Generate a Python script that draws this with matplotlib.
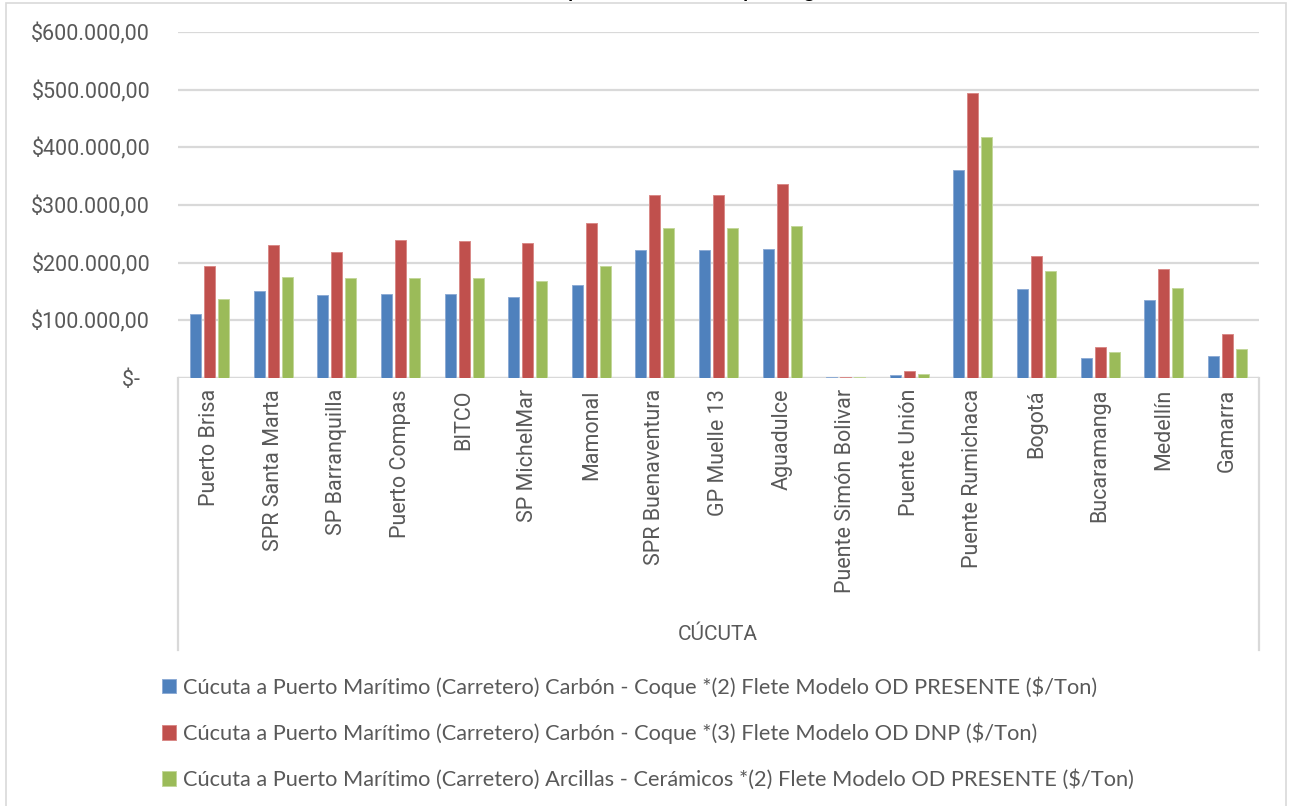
import matplotlib
matplotlib.use("Agg")
import matplotlib.pyplot as plt
from matplotlib.patches import Rectangle
from matplotlib.ticker import FuncFormatter, MultipleLocator
import numpy as np

# Destinations reached from Cúcuta
categories = [
    "Puerto Brisa", "SPR Santa Marta", "SP Barranquilla", "Puerto Compas",
    "BITCO", "SP MichelMar", "Mamonal", "SPR Buenaventura", "GP Muelle 13",
    "Aguadulce", "Puente Simón Bolivar", "Puente Unión", "Puente Rumichaca",
    "Bogotá", "Bucaramanga", "Medellín", "Gamarra",
]
group_label = "CÚCUTA"

# Freight per ton ($/Ton)
coque_presente = [111000, 151000, 144000, 146000, 145000, 140500, 161000, 221500,
                  221500, 223000, 1500, 5200, 360700, 155000, 34700, 135000, 38000]
coque_dnp = [194000, 230600, 218500, 239000, 237500, 233500, 268500, 317000,
             317000, 336000, 2200, 11600, 493600, 211000, 54300, 189000, 75700]
arcillas_presente = [137500, 175000, 173000, 174000, 173000, 169000, 194000, 260700,
                     260700, 263600, 1500, 7500, 417400, 185000, 45000, 156000, 50300]

series_labels = [
    "Cúcuta a Puerto Marítimo (Carretero) Carbón - Coque *(2) Flete Modelo OD PRESENTE ($/Ton)",
    "Cúcuta a Puerto Marítimo (Carretero) Carbón - Coque *(3) Flete Modelo OD DNP ($/Ton)",
    "Cúcuta a Puerto Marítimo (Carretero) Arcillas - Cerámicos *(2) Flete Modelo OD PRESENTE ($/Ton)",
]
series_colors = ["#4F81BD", "#C0504D", "#9BBB59"]
edge_colors = ["#8EACD5", "#D98A88", "#C3D79B"]

title_text = "Fletes de transporte desde Cúcuta por carga"

TEXT = "#595959"
GRID = "#D9D9D9"

W, H = 1290, 806
fig = plt.figure(figsize=(W / 100, H / 100), dpi=100)
fig.patch.set_facecolor("white")

ax_left, ax_right = 178 / W, 1259 / W
ax_top, ax_bottom = 1 - 32 / H, 1 - 378 / H
ax = fig.add_axes([ax_left, ax_bottom, ax_right - ax_left, ax_top - ax_bottom])

x = np.arange(len(categories))
bar_w = 11 / 63.6
step = 14 / 63.6
all_series = [coque_presente, coque_dnp, arcillas_presente]
handles = []
for i, vals in enumerate(all_series):
    b = ax.bar(x + (i - 1) * step, vals, width=bar_w, color=series_colors[i],
               edgecolor=edge_colors[i], linewidth=0.7, label=series_labels[i],
               zorder=3)
    handles.append(b)

ax.set_xlim(-0.5, len(categories) - 0.5)
ax.set_ylim(0, 600000)
ax.yaxis.set_major_locator(MultipleLocator(100000))


def money(v, pos):
    if abs(v) < 1e-6:
        return "$-  "
    s = f"{v:,.2f}"
    s = s.replace(",", "X").replace(".", ",").replace("X", ".")
    return "$" + s


ax.yaxis.set_major_formatter(FuncFormatter(money))
ax.grid(axis="y", color=GRID, linewidth=1.6, zorder=0)
ax.set_axisbelow(True)
for sp in ax.spines.values():
    sp.set_visible(False)
ax.axhline(0, color=GRID, linewidth=1.6, zorder=2)

ax.tick_params(axis="y", length=0, pad=20, labelsize=15.5, labelcolor=TEXT)
ax.tick_params(axis="x", length=0, pad=8, labelsize=15.5, labelcolor=TEXT)
for lbl in ax.get_yticklabels():
    lbl.set_fontfamily("Roboto")
ax.set_xticks(x)
ax.set_xticklabels(categories, rotation=90, fontfamily="Roboto")

# Outer category group box
box_bottom = -(650 - 378) / (378 - 32)
for xs in (0, 1):
    ax.plot([xs, xs], [0, box_bottom], transform=ax.transAxes, color=GRID,
            linewidth=1.6, clip_on=False)
fig.text(718 / W, 1 - 635 / H, group_label, ha="center", va="center",
         fontsize=15, color=TEXT, fontfamily="Roboto")

# Legend below the chart
leg = ax.legend(handles=handles, loc="upper left",
                bbox_to_anchor=(162 / W, 1 - 676 / H), bbox_transform=fig.transFigure,
                frameon=False, ncol=1, prop={"family": "Lato", "size": 15.7},
                labelspacing=1.16, handlelength=0.65, handleheight=0.65,
                handletextpad=0.3, borderpad=0, borderaxespad=0)
for t in leg.get_texts():
    t.set_color(TEXT)

# Chart title at the top edge
fig.text(0.49, 1 + 1.5 / H, title_text, ha="center", va="baseline",
         fontsize=14, fontweight="bold", color="black", fontfamily="Lato")

# Chart area border
fig.add_artist(Rectangle((6 / W, -0.05), (1286 - 6) / W, 1.05 - 3 / H,
                         transform=fig.transFigure, fill=False,
                         edgecolor=GRID, linewidth=1.2))

fig.savefig("out.png", dpi=100)
